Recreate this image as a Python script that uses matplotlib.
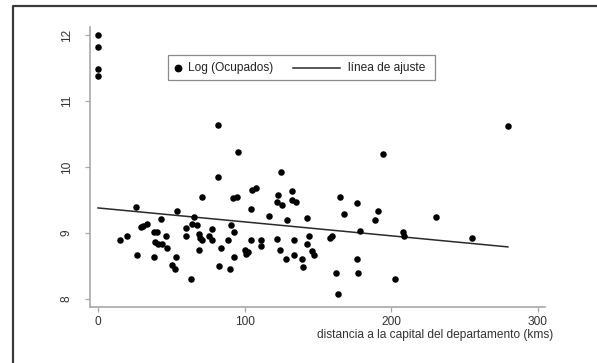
import matplotlib
matplotlib.use("Agg")
import matplotlib.pyplot as plt
from matplotlib.lines import Line2D
from matplotlib.patches import Rectangle

plt.rcParams['font.family'] = ['Liberation Sans', 'DejaVu Sans']

# distance to department capital (kms)
distancia = [
    0, 0, 0, 0,
    15.0, 19.6, 26.9, 25.6, 29.0, 30.9, 33.2, 38.2, 40.0, 38.9, 41.2, 43.8,
    46.2, 46.8, 43.0, 38.4, 50.6, 52.5, 53.0, 54.2, 63.3, 60.0, 60.3, 65.6,
    64.4, 67.2, 70.9, 68.9, 69.7, 70.9, 69.1, 75.9, 77.9, 77.7, 82.7, 84.0,
    89.7, 88.8, 90.9, 92.7, 92.5, 92.2, 94.6, 100.2, 102.5, 100.6, 104.1, 104.1,
    104.8, 107.5, 111.1, 111.1, 116.8, 121.8, 124.1, 121.8, 122.9, 125.8, 128.0,
    128.7, 132.1, 132.6, 134.7, 133.8, 133.8, 138.9, 139.8, 142.8, 142.2, 143.9,
    145.7, 147.4, 158.5, 159.9, 162.3, 163.8, 165.0, 176.8, 167.7, 190.7, 188.9,
    178.6, 176.8, 177.6, 194.3, 202.7, 208.3, 208.8, 230.8, 255.0, 279.5,
    81.8, 95.5, 81.8, 124.8,
]
# log of employed
log_ocupados = [
    12.00, 11.81, 11.48, 11.38,
    8.89, 8.95, 8.66, 9.40, 9.09, 9.11, 9.13, 9.02, 9.01, 8.86, 8.83, 8.83,
    8.95, 8.77, 9.22, 8.63, 8.51, 8.45, 8.64, 9.33, 8.31, 9.08, 8.96, 9.25,
    9.14, 9.12, 9.55, 8.98, 8.92, 8.89, 8.74, 8.96, 8.90, 9.06, 8.50, 8.77,
    8.45, 8.89, 9.12, 9.01, 8.63, 9.53, 9.55, 8.74, 8.71, 8.68, 8.90, 9.36,
    9.65, 9.68, 8.89, 8.81, 9.26, 8.91, 8.75, 9.47, 9.58, 9.42, 8.60,
    9.20, 9.63, 9.50, 9.47, 8.89, 8.66, 8.60, 8.48, 9.23, 8.83, 8.95,
    8.73, 8.66, 8.92, 8.95, 8.39, 8.08, 9.55, 9.46, 9.29, 9.34, 9.19,
    9.03, 8.60, 8.39, 10.20, 8.31, 9.02, 8.95, 9.25, 8.92, 10.62,
    10.64, 10.23, 9.85, 9.92,
]
# fitted line endpoints
fit_x = [0, 279.5]
fit_y = [9.38, 8.79]

x_ticks = [0, 100, 200, 300]
y_ticks = [8, 9, 10, 11, 12]

W, H = 597, 363
fig = plt.figure(figsize=(W / 100, H / 100), dpi=100)
fx = lambda px: px / W
fy = lambda py: 1 - py / H

ax = fig.add_axes([fx(90), fy(307), fx(545) - fx(90), fy(27) - fy(307)])
ax.scatter(distancia, log_ocupados, s=22, color='black', linewidths=0, zorder=3)
ax.plot(fit_x, fit_y, color='#2a2a2a', lw=1.1, zorder=2)

ax.set_xlim(-5.45, 304.8)
ax.set_ylim(7.88, 12.12)
ax.set_xticks(x_ticks)
ax.set_yticks(y_ticks)
for s in ['top', 'right']:
    ax.spines[s].set_visible(False)
for s in ['left', 'bottom']:
    ax.spines[s].set_color('#a8a8a8')
    ax.spines[s].set_linewidth(1.2)
ax.tick_params(axis='both', colors='#a8a8a8', labelcolor='#333333', labelsize=8.6,
               length=3.5, width=0.9)
ax.tick_params(axis='x', pad=3)
ax.tick_params(axis='y', pad=9, labelrotation=90)
for lab in ax.get_yticklabels():
    lab.set_va('center')
    lab.set_ha('right')

ax.set_xlabel('distancia a la capital del departamento (kms)', fontsize=8.6,
              color='#333333', ha='right', va='center')
ax.xaxis.set_label_coords((553 - 90) / 455, -(335 - 307) / 280)

# legend box drawn manually
fig.add_artist(Rectangle((fx(168), fy(80)), fx(435) - fx(168), fy(55) - fy(80),
                         transform=fig.transFigure, facecolor='white',
                         edgecolor='#8a8a8a', lw=0.9))
ly = fy(67.5)
fig.add_artist(Line2D([fx(178)], [ly], marker='o', ms=4.6, color='black',
                      linestyle='none', transform=fig.transFigure))
fig.text(fx(188), ly, 'Log (Ocupados)', fontsize=8.6, color='#222222',
         va='center', ha='left')
fig.add_artist(Line2D([fx(293), fx(340)], [ly, ly], color='#2a2a2a', lw=1.1,
                      transform=fig.transFigure))
fig.text(fx(348), ly, 'línea de ajuste', fontsize=8.6, color='#222222',
         va='center', ha='left')

# outer frame (partially visible)
fig.add_artist(Line2D([fx(13), fx(13), 1.0], [0, fy(6), fy(6)], color='#3a3a3a',
                      lw=1.6, transform=fig.transFigure))

fig.savefig('out.png', dpi=100, facecolor='white')
